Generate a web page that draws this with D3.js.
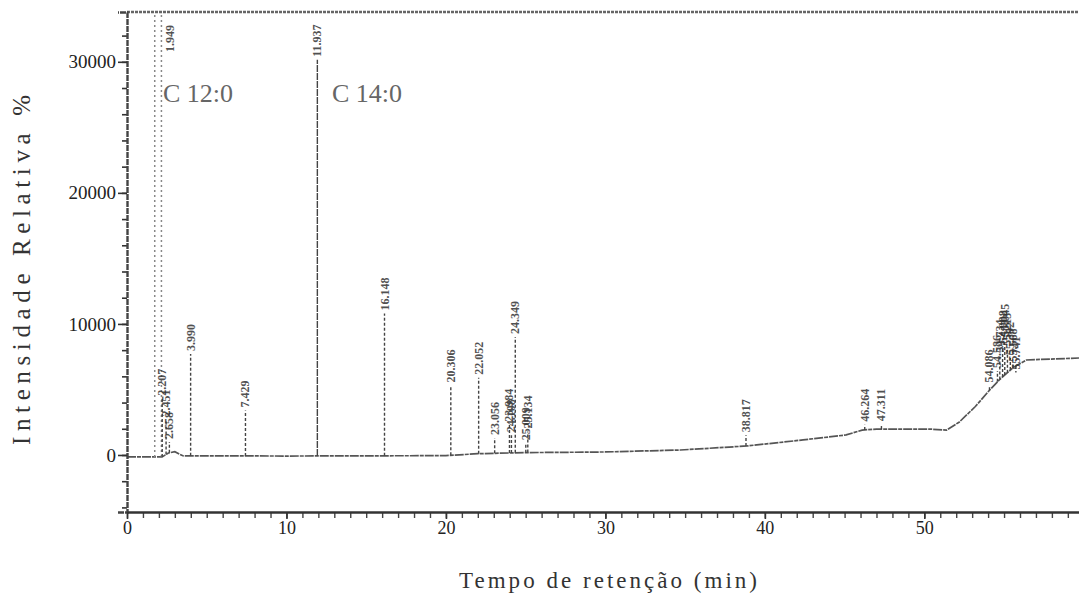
<!DOCTYPE html>
<!-- chromatogram: intensity vs retention time, peaks drawn as thin lines with rotated retention-time labels -->
<html>
<head>
<meta charset="utf-8">
<style>
  body { margin: 0; background: #fff; }
  text { font-family: "Liberation Serif", "DejaVu Serif", serif; fill: #2a2a2a; }
</style>
</head>
<body>
<div id="graph_div"></div>

<script src="https://d3js.org/d3.v7.min.js"></script>

<script>

// baseline of the detector signal (min, intensity)
let base_t = [0, 2.2, 2.6, 3.0, 3.5, 10, 20, 22, 25, 30, 34.7, 38.9, 42.4, 45.1, 46.1, 47.0, 50.3, 51.4, 52.2, 53.2, 54.1, 54.7, 55.6, 56.4, 59.7];
let base_i = [-150, -150, 150, 250, -60, -80, -50, 100, 180, 230, 380, 690, 1150, 1530, 1900, 1980, 1980, 1900, 2520, 3700, 4960, 5730, 6700, 7250, 7400];

// peaks: retention time, apex intensity, printed label, width of peak (min)
let peak_t = [1.949, 2.207, 2.451, 2.658, 3.990, 7.429, 11.937, 16.148, 20.306, 22.052, 23.056, 23.984, 24.108, 24.349, 25.009, 25.134,
              38.817, 46.264, 47.311, 54.086, 54.586, 54.734, 54.908, 55.045, 55.213, 55.392, 55.568, 55.741];
let peak_h = [45000, 4300, 2700, 1000, 7700, 3400, 30150, 10800, 5300, 5900, 1300, 2300, 1500, 9000, 900, 1800,
              1500, 2300, 2350, 5300, 6400, 7600, 8300, 8800, 8100, 7400, 6900, 6300];
let peak_lbl = ["1.949", "2.207", "2.451", "2.658", "3.990", "7.429", "11.937", "16.148", "20.306", "22.052", "23.056", "23.984", "24.108", "24.349", "25.009", "25.134",
                "38.817", "46.264", "47.311", "54.086", "54.586", "54.734", "54.908", "55.045", "55.213", "55.392", "55.568", "55.741"];
let peak_w = [0.42, 0, 0, 0, 0, 0, 0, 0, 0, 0, 0, 0, 0, 0, 0, 0,
              0, 0, 0, 0, 0, 0, 0, 0, 0, 0, 0, 0];

// annotations (fatty acid names)
let note_txt = ["C 12:0", "C 14:0"];
let note_t = [2.25, 12.85];
let note_i = [26900, 26900];

// axis ticks
let y_major = [0, 10000, 20000, 30000];
let x_major = [0, 10, 20, 30, 40, 50];

let margin = {top: 12, right: 0, bottom: 89, left: 127},
    container_width = 1079,
    container_height = 601,
    graph_width = container_width - margin.left - margin.right,
    graph_height = container_height - margin.top - margin.bottom;

let svg = d3.select("#graph_div")
  .append("svg")
    .attr("width", container_width)
    .attr("height", container_height);

let g = svg.append("g")
    .attr("transform", "translate(" + margin.left + "," + margin.top + ")");

let x = d3.scaleLinear().domain([0, 59.7]).range([0, graph_width]);
let y = d3.scaleLinear().domain([-4350, 33800]).range([graph_height, 0]);

svg.append("defs").append("clipPath").attr("id", "plot_clip")
  .append("rect").attr("x", 0).attr("y", 0).attr("width", graph_width).attr("height", graph_height);

// top frame
g.append("line")
  .attr("x1", 0).attr("x2", graph_width).attr("y1", 0).attr("y2", 0)
  .attr("stroke", "#666").attr("stroke-width", 2.6).attr("stroke-dasharray", "3,1");

// baseline
let base_pts = base_t.map((t, i) => [t, base_i[i]]);
let base_at = d3.scaleLinear().domain(base_t).range(base_i);

let plot = g.append("g").attr("clip-path", "url(#plot_clip)");

plot.append("path")
  .datum(base_pts)
  .attr("fill", "none")
  .attr("stroke", "#555")
  .attr("stroke-width", 1.7)
  .attr("stroke-dasharray", "9,1,4,1")
  .attr("d", d3.line().x(d => x(d[0])).y(d => y(d[1])));

// peaks
let peaks = peak_t.map((t, i) => ({t: t, h: peak_h[i], lbl: peak_lbl[i], w: peak_w[i]}));

let pk = plot.selectAll(".peak")
  .data(peaks)
  .enter()
  .append("g")
    .attr("class", "peak");

pk.each(function(d) {
  let sides = d.w > 0 ? [d.t - d.w / 2, d.t + d.w / 2] : [d.t];
  d3.select(this).selectAll("line")
    .data(sides)
    .enter()
    .append("line")
      .attr("x1", s => x(s)).attr("x2", s => x(s))
      .attr("y1", s => y(base_at(s)))
      .attr("y2", y(d.h))
      .attr("stroke", d.w > 0 ? "#888" : "#444")
      .attr("stroke-width", d.w > 0 ? 1.5 : 1.4)
      .attr("stroke-dasharray", d.w > 0 ? "2,3" : (d.h > 20000 ? "7,1" : "3,2"));
});

// rotated labels above each apex (clipped peaks get the label at the top, beside the line)
g.selectAll(".peak_lbl")
  .data(peaks)
  .enter()
  .append("text")
    .attr("class", "peak_lbl")
    .attr("transform", function(d) {
      let over = d.h > y.domain()[1];
      let px = x(d.t) + (over ? 16 : 4);
      let py = over ? 40 : y(d.h) - 3;
      return "translate(" + px + "," + py + ") rotate(-90)";
    })
    .attr("font-size", 12)
    .attr("font-weight", "bold")
    .style("fill", "#333")
    .style("opacity", 0.85)
    .text(d => d.lbl);

// annotations
g.selectAll(".note")
  .data(note_txt)
  .enter()
  .append("text")
    .attr("class", "note")
    .attr("x", (d, i) => x(note_t[i]))
    .attr("y", (d, i) => y(note_i[i]))
    .attr("font-size", 26)
    .style("fill", "#666")
    .text(d => d);

// y axis: minor ticks then labelled major ticks
g.append("g")
  .call(d3.axisLeft(y).tickValues(d3.range(-4000, 33000, 2000)).tickSize(5).tickFormat(""))
  .call(a => a.select(".domain").remove())
  .selectAll("line").attr("stroke", "#333").attr("stroke-width", 1.6);

let y_axis = g.append("g")
  .call(d3.axisLeft(y).tickValues(y_major).tickSize(9).tickPadding(2).tickFormat(d => String(d)));
y_axis.select(".domain").attr("stroke", "#444").attr("stroke-width", 2.4).attr("stroke-dasharray", "6,1");
y_axis.selectAll("line").attr("stroke", "#333").attr("stroke-width", 1.6);
y_axis.selectAll("text").attr("font-size", 19).attr("font-family", "Liberation Serif, serif").style("fill", "#222");

// x axis: minor ticks every minute, major every ten
let x_axis = g.append("g")
  .attr("transform", "translate(0," + graph_height + ")");

x_axis.append("g")
  .call(d3.axisBottom(x).tickValues(d3.range(0, 60, 1)).tickSize(6).tickFormat(""))
  .call(a => a.select(".domain").remove())
  .selectAll("line").attr("stroke", "#444").attr("stroke-width", 1.4);

let x_main = x_axis.append("g")
  .call(d3.axisBottom(x).tickValues(x_major).tickSize(7).tickPadding(2).tickSizeOuter(0));
x_main.select(".domain").attr("stroke", "#333").attr("stroke-width", 2.6);
x_main.selectAll("line").attr("stroke", "#333").attr("stroke-width", 1.6);
x_main.selectAll("text").attr("font-size", 18).attr("font-family", "Liberation Serif, serif").style("fill", "#222");

// axis titles
svg.append("text")
  .attr("transform", "translate(30," + 270 + ") rotate(-90)")
  .attr("text-anchor", "middle")
  .attr("font-size", 25)
  .attr("textLength", 350)
  .attr("lengthAdjust", "spacing")
  .style("fill", "#333")
  .text("Intensidade Relativa %");

svg.append("text")
  .attr("x", 608)
  .attr("y", 588)
  .attr("text-anchor", "middle")
  .attr("font-size", 23)
  .attr("textLength", 298)
  .attr("lengthAdjust", "spacing")
  .style("fill", "#333")
  .text("Tempo de retenção (min)");

</script>
</body>
</html>
